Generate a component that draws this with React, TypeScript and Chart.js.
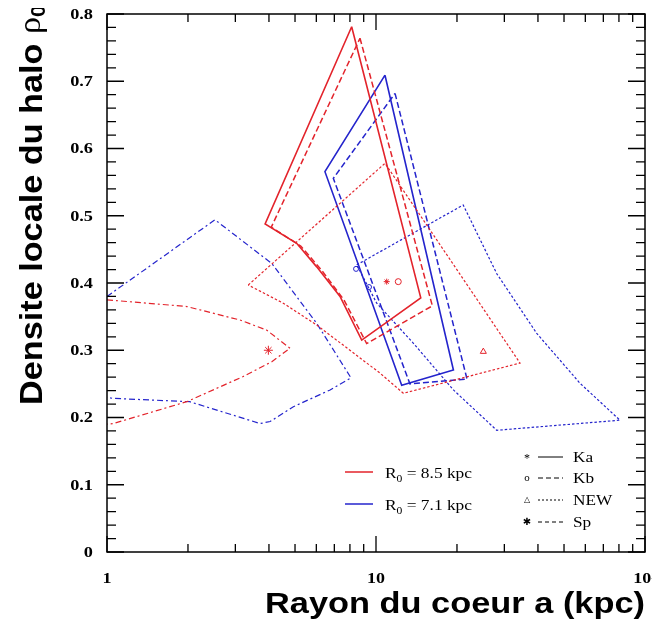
import React, { useEffect, useRef } from 'react';
import { Chart, registerables } from 'chart.js';
Chart.register(...registerables);

const RED = '#e3232b';
const BLUE = '#2424cc';

// Axis ticks
const xMajorTicks = [1, 10, 100];
const xTickLabels = ['1', '10', '10\u00B2'];
const xMinorTicks = [2, 3, 4, 5, 6, 7, 8, 9, 20, 30, 40, 50, 60, 70, 80, 90];
const yMajorTicks = [0, 0.1, 0.2, 0.3, 0.4, 0.5, 0.6, 0.7, 0.8];
const yTickLabels = ['0', '0.1', '0.2', '0.3', '0.4', '0.5', '0.6', '0.7', '0.8'];

// R0 = 8.5 kpc (red)
const redKaX = [8.12, 14.67, 8.85, 7.35, 6.02, 5.07, 3.87, 8.12];
const redKaY = [0.781, 0.378, 0.315, 0.38, 0.424, 0.459, 0.488, 0.781];
const redKbX = [8.72, 16.2, 9.23, 7.6, 6.25, 5.25, 4.08, 8.72];
const redKbY = [0.764, 0.366, 0.31, 0.375, 0.42, 0.455, 0.483, 0.764];
const redNewX = [3.35, 10.8, 34.3, 12.64, 10.35, 8.0, 6.02, 4.52, 3.35];
const redNewY = [0.397, 0.578, 0.281, 0.236, 0.266, 0.3, 0.3375, 0.37, 0.397];
const redSpX = [1.0, 1.98, 3.12, 3.92, 4.79, 4.1, 3.21, 1.98, 1.056, 1.0];
const redSpY = [0.375, 0.365, 0.345, 0.33, 0.303, 0.283, 0.261, 0.2235, 0.191, 0.19];

// R0 = 7.1 kpc (blue)
const blueKaX = [10.8, 19.4, 12.46, 6.46, 10.8];
const blueKaY = [0.709, 0.2706, 0.248, 0.5655, 0.709];
const blueKbX = [11.77, 21.8, 13.37, 6.94, 11.77];
const blueKbY = [0.682, 0.257, 0.25, 0.5556, 0.682];
const blueNewX = [8.48, 21.1, 28.1, 39.6, 57.3, 80.7, 28.1, 19.4, 13.8, 10.06, 8.48];
const blueNewY = [0.427, 0.516, 0.414, 0.325, 0.251, 0.196, 0.181, 0.241, 0.31, 0.37, 0.427];
const blueSpX = [1.0, 2.52, 4.1, 6.02, 8.07, 6.75, 4.93, 4.04, 3.71, 2.03, 1.05, 1.0];
const blueSpY = [0.38, 0.494, 0.429, 0.34, 0.259, 0.241, 0.216, 0.194, 0.191, 0.2235, 0.2285, 0.23];

// Best-fit markers
const markerX = [10.96, 12.1, 25.06, 3.98, 8.43, 9.42];
const markerY = [0.402, 0.402, 0.298, 0.3, 0.421, 0.394];
const markerStyle = ['star', 'circle', 'triangle', 'star', 'circle', 'circle'];
const markerColor = [RED, RED, RED, RED, BLUE, BLUE];
const markerSize = [3, 3, 3.5, 4.5, 2.5, 2.5];

const DASH_KA: number[] = [];
const DASH_KB = [6, 3];
const DASH_NEW = [2.5, 2];
const DASH_SP = [6, 3, 2, 3];

const pts = (xs: number[], ys: number[]) => xs.map((x, i) => ({ x, y: ys[i] }));

const poly = (label: string, xs: number[], ys: number[], color: string, dash: number[], width = 1.5) => ({
  label,
  data: pts(xs, ys),
  showLine: true,
  borderColor: color,
  borderWidth: width,
  borderDash: dash,
  pointRadius: 0,
  tension: 0,
  fill: false,
});

const SANS = '"Liberation Sans", Arial, sans-serif';
const SERIF = '"Liberation Serif", "Times New Roman", serif';

function stretchText(ctx: CanvasRenderingContext2D, s: string, x: number, y: number, font: string, align: CanvasTextAlign, sx: number, baseline: CanvasTextBaseline = 'alphabetic', color = '#000') {
  ctx.save();
  ctx.font = font;
  ctx.fillStyle = color;
  ctx.textAlign = align;
  ctx.textBaseline = baseline;
  ctx.translate(x, y);
  ctx.scale(sx, 1);
  ctx.fillText(s, 0, 0);
  ctx.restore();
}

// draws R_0 = ... text fitted to a width
function r0Text(ctx: CanvasRenderingContext2D, rest: string, x: number, y: number, targetW: number) {
  ctx.save();
  const f1 = `15px ${SERIF}`;
  const f2 = `10px ${SERIF}`;
  ctx.font = f1;
  const wR = ctx.measureText('R').width;
  const wRest = ctx.measureText(rest).width;
  ctx.font = f2;
  const w0 = ctx.measureText('0').width;
  const sx = targetW / (wR + w0 + wRest);
  ctx.translate(x, y);
  ctx.scale(sx, 1);
  ctx.fillStyle = '#000';
  ctx.textBaseline = 'alphabetic';
  ctx.textAlign = 'left';
  ctx.font = f1;
  ctx.fillText('R', 0, 0);
  ctx.font = f2;
  ctx.fillText('0', wR, 4);
  ctx.font = f1;
  ctx.fillText(rest, wR + w0, 0);
  ctx.restore();
}

const framePlugin = {
  id: 'framePlugin',
  afterDraw(chart: any) {
    const { ctx, chartArea: a, scales } = chart;
    const xs = scales.x;
    const ys = scales.y;
    const O = 8; // canvas offset in page
    ctx.save();
    ctx.setLineDash([]);
    ctx.strokeStyle = '#000';
    ctx.lineWidth = 1.5;
    ctx.strokeRect(a.left, a.top, a.right - a.left, a.bottom - a.top);

    ctx.lineWidth = 1.3;
    ctx.beginPath();
    for (const v of xMajorTicks) {
      const p = xs.getPixelForValue(v);
      ctx.moveTo(p, a.bottom); ctx.lineTo(p, a.bottom - 16);
      ctx.moveTo(p, a.top); ctx.lineTo(p, a.top + 16);
    }
    for (const v of xMinorTicks) {
      const p = xs.getPixelForValue(v);
      ctx.moveTo(p, a.bottom); ctx.lineTo(p, a.bottom - 8);
      ctx.moveTo(p, a.top); ctx.lineTo(p, a.top + 8);
    }
    for (let i = 0; i <= 40; i++) {
      const v = i * 0.02;
      const p = ys.getPixelForValue(v);
      const len = i % 5 === 0 ? 17 : 9;
      ctx.moveTo(a.left, p); ctx.lineTo(a.left + len, p);
      ctx.moveTo(a.right, p); ctx.lineTo(a.right - len, p);
    }
    ctx.stroke();

    // tick labels
    const tickFont = `bold 15px ${SERIF}`;
    yMajorTicks.forEach((v, i) => {
      stretchText(ctx, yTickLabels[i], 93 - O, ys.getPixelForValue(v) + 1, tickFont, 'right', 1.22, 'middle');
    });
    xMajorTicks.forEach((v, i) => {
      stretchText(ctx, xTickLabels[i], xs.getPixelForValue(v), 579 - O, tickFont, 'center', 1.2, 'middle');
    });

    // x title
    {
      const s = 'Rayon du coeur a (kpc)';
      ctx.font = `bold 29px ${SANS}`;
      const w = ctx.measureText(s).width;
      stretchText(ctx, s, 265 - O, 613 - O, `bold 29px ${SANS}`, 'left', 380 / w);
    }
    // y title (rotated)
    {
      const s1 = 'Densite locale du halo ';
      const f1 = `bold 32px ${SANS}`;
      const fr = `32px ${SERIF}`;
      const f0 = `bold 20px ${SANS}`;
      ctx.font = f1; const w1 = ctx.measureText(s1).width;
      ctx.font = fr; const w2 = ctx.measureText('\u03C1').width;
      ctx.font = f0; const w3 = ctx.measureText('0').width;
      const sx = 400 / (w1 + w2 + w3);
      ctx.save();
      ctx.translate(42 - O, 405 - O);
      ctx.rotate(-Math.PI / 2);
      ctx.scale(sx, 1);
      ctx.fillStyle = '#000';
      ctx.textAlign = 'left';
      ctx.textBaseline = 'alphabetic';
      ctx.font = f1; ctx.fillText(s1, 0, 0);
      ctx.font = fr; ctx.fillText('\u03C1', w1, -2);
      ctx.font = f0; ctx.fillText('0', w1 + w2, 3);
      ctx.restore();
    }

    // left legend
    ctx.lineWidth = 1.5;
    ctx.setLineDash([]);
    ctx.strokeStyle = RED;
    ctx.beginPath(); ctx.moveTo(345 - O, 472 - O); ctx.lineTo(373 - O, 472 - O); ctx.stroke();
    ctx.strokeStyle = BLUE;
    ctx.beginPath(); ctx.moveTo(345 - O, 504 - O); ctx.lineTo(373 - O, 504 - O); ctx.stroke();
    r0Text(ctx, ' = 8.5 kpc', 385 - O, 478 - O, 87);
    r0Text(ctx, ' = 7.1 kpc', 385 - O, 510 - O, 87);

    // right legend
    const rows = [
      { mark: '*', name: 'Ka', dash: DASH_KA, base: 462, mf: `12px ${SERIF}`, my: 2 },
      { mark: 'o', name: 'Kb', dash: [5, 3], base: 483, mf: `11px ${SERIF}`, my: 0 },
      { mark: '\u25B3', name: 'NEW', dash: [2, 2], base: 505, mf: `8px "DejaVu Sans"`, my: 0 },
      { mark: '\u2731', name: 'Sp', dash: [4, 3], base: 527, mf: `10px "DejaVu Sans"`, my: 0 },
    ];
    ctx.strokeStyle = '#000';
    ctx.lineWidth = 1;
    rows.forEach((r) => {
      const ly = r.base - 5 - O;
      ctx.setLineDash(r.dash);
      ctx.beginPath(); ctx.moveTo(538 - O, ly); ctx.lineTo(563 - O, ly); ctx.stroke();
      ctx.setLineDash([]);
      stretchText(ctx, r.mark, 527 - O, ly + r.my, r.mf, 'center', 1, 'middle');
      stretchText(ctx, r.name, 573 - O, r.base - O, `15px ${SERIF}`, 'left', 1.15);
    });
    ctx.restore();
  },
};

export default function App() {
  const ref = useRef<HTMLCanvasElement | null>(null);
  useEffect(() => {
    if (!ref.current) return;
    const chart = new Chart(ref.current, {
      type: 'scatter',
      data: {
        datasets: [
          poly('Ka R0=8.5', redKaX, redKaY, RED, DASH_KA, 1.6),
          poly('Kb R0=8.5', redKbX, redKbY, RED, DASH_KB),
          poly('NEW R0=8.5', redNewX, redNewY, RED, DASH_NEW, 1.2),
          poly('Sp R0=8.5', redSpX, redSpY, RED, DASH_SP, 1.2),
          poly('Ka R0=7.1', blueKaX, blueKaY, BLUE, DASH_KA, 1.6),
          poly('Kb R0=7.1', blueKbX, blueKbY, BLUE, DASH_KB),
          poly('NEW R0=7.1', blueNewX, blueNewY, BLUE, DASH_NEW, 1.2),
          poly('Sp R0=7.1', blueSpX, blueSpY, BLUE, DASH_SP, 1.2),
          {
            label: 'markers',
            data: pts(markerX, markerY),
            showLine: false,
            pointStyle: markerStyle as any,
            pointRadius: markerSize,
            borderColor: markerColor,
            backgroundColor: 'rgba(0,0,0,0)',
            pointBorderWidth: 1,
          } as any,
        ],
      },
      options: {
        animation: false,
        responsive: false,
        events: [],
        layout: { padding: { top: 6, right: 15, left: 0, bottom: 0 } },
        plugins: { legend: { display: false }, tooltip: { enabled: false } },
        scales: {
          x: {
            type: 'logarithmic',
            min: 1,
            max: 100,
            ticks: { display: false },
            grid: { display: false },
            border: { display: false },
            afterFit: (s: any) => { s.height = 77; },
          },
          y: {
            type: 'linear',
            min: 0,
            max: 0.8,
            ticks: { display: false },
            grid: { display: false },
            border: { display: false },
            afterFit: (s: any) => { s.width = 99; },
          },
        },
      },
      plugins: [framePlugin],
    });
    return () => chart.destroy();
  }, []);
  return (
    <div style={{ width: 652, height: 621 }}>
      <canvas ref={ref} width={652} height={621} style={{ display: 'block', width: 652, height: 621 }} />
    </div>
  );
}
